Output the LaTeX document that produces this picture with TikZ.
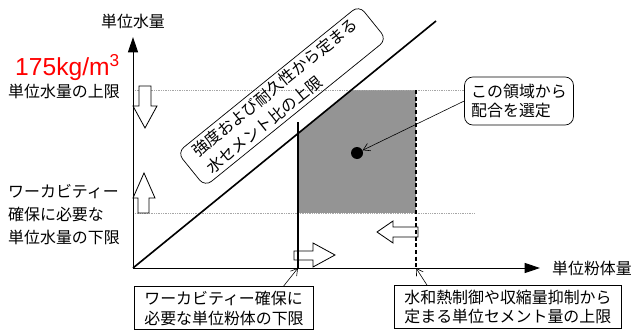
\documentclass[tikz,border=0pt]{standalone}
\usepackage{fontspec}
\usepackage{tikz}
\usetikzlibrary{arrows.meta,calc}
\newfontfamily\jpfont{Noto Sans CJK JP}
\newfontfamily\arialfont{Liberation Sans}
\definecolor{regiongray}{gray}{0.58}

\begin{document}
\begin{tikzpicture}[x=0.03cm,y=-0.03cm,
	textstyle/.style={font=\jpfont\fontsize{13.6}{17}\selectfont,inner sep=0pt,align=left},
	boxstyle/.style={textstyle,draw,line width=0.6pt,inner xsep=3mm,inner ysep=1.2mm},
	roundstyle/.style={boxstyle,rounded corners=2.5mm},
	hollowstyle/.style={draw,fill=white,line width=0.7pt,line join=miter},
	guidestyle/.style={densely dotted,gray!70,line width=0.5pt},
	axisstyle/.style={line width=0.8pt,-{Triangle[length=4.6mm,width=3mm]}},
	pointer/.style={line width=0.5pt,-{Straight Barb[length=2mm,width=2.4mm]}}]
				\useasboundingbox (0,0) rectangle (635,334);
				
				\coordinate (O) at (133,268);
				\coordinate (T) at (436,21);
				\coordinate (ytip) at (133,37);
				\coordinate (xtip) at (540,268);
				\coordinate (vtop) at (298,122);
				\coordinate (vbot) at (298,268);
				\coordinate (dtop) at (416,90);
				\coordinate (dbot) at (416,268);
				
				% region below the diagonal
				\begin{scope}
				\clip (O) -- (T) -- (635,21) -- (635,268) -- cycle;
				\fill[regiongray] (298,90) rectangle (416,213);
				\end{scope}
				\foreach \y/\e in {90/465,213/474}
				\draw[guidestyle] (133,\y) -- (\e,\y);
				
				% hollow arrows
				\draw[hollowstyle] (139,86) -- (151,86) -- (151,106) -- (157,106) -- (145,128) -- (133,106) -- (139,106) -- cycle;
				\draw[hollowstyle] (138,213) -- (149,213) -- (149,198) -- (155,198) -- (144,173) -- (133,198) -- (138,198) -- cycle;
				\draw[hollowstyle] (294,251) -- (313,251) -- (313,243) -- (335,255) -- (313,267) -- (313,260) -- (294,260) -- cycle;
				\draw[hollowstyle] (418,227) -- (393,227) -- (393,221) -- (377,232) -- (393,243) -- (393,237) -- (418,237) -- cycle;
				
				\draw[axisstyle] (O) -- (ytip);
				\draw[axisstyle] (O) -- (xtip);
				\draw[line width=1.4pt] (O) -- (T);
				\draw[line width=1.4pt] (vtop) -- (vbot);
				\draw[line width=1.5pt,dash pattern=on 1.2mm off 0.8mm] (dtop) -- (dbot);
				\node[circle,fill,inner sep=0pt,minimum size=0.36cm] (dot) at (357,153) {};
				
				\node[textstyle] (ylab) at (133,21) {単位水量};
				\node[textstyle] (xlab) at (592,268) {単位粉体量};
				\node[anchor=base west,inner sep=0pt,text=red,font=\arialfont\fontsize{21}{25}\selectfont] (maxlab) at (15,75) {175kg/m\textsuperscript{3}};
				\node[textstyle,anchor=west] (uplab) at (8,91) {単位水量の上限};
				\node[textstyle,anchor=west,font=\jpfont\fontsize{13.6}{19.6}\selectfont] (lowlab) at (8,215) {ワーカビティー\\確保に必要な\\単位水量の下限};
				
				\node[roundstyle,rotate=39,inner xsep=4mm,inner ysep=1mm,font=\jpfont\fontsize{13.6}{19.2}\selectfont] (wcbox) at (282,96) {強度および耐久性から定まる\\水セメント比の上限};
				\node[roundstyle,inner xsep=2mm,inner ysep=2mm] (selbox) at (519,101) {この領域から\\配合を選定};
				\node[boxstyle] (lowbox) at (224,308) {ワーカビティー確保に\\必要な単位粉体の下限};
				\node[boxstyle] (capbox) at (508,307) {水和熱制御や収縮量抑制から\\定まる単位セメント量の上限};
				
				\draw[pointer] (selbox.west) -- (dot);
				\draw[pointer] ($(lowbox.north west)!.83!(lowbox.north east)$) -- (vbot);
				\draw[pointer] ($(capbox.north west)!.145!(capbox.north east)$) -- (dbot);
				
			\end{tikzpicture}
\end{document}
